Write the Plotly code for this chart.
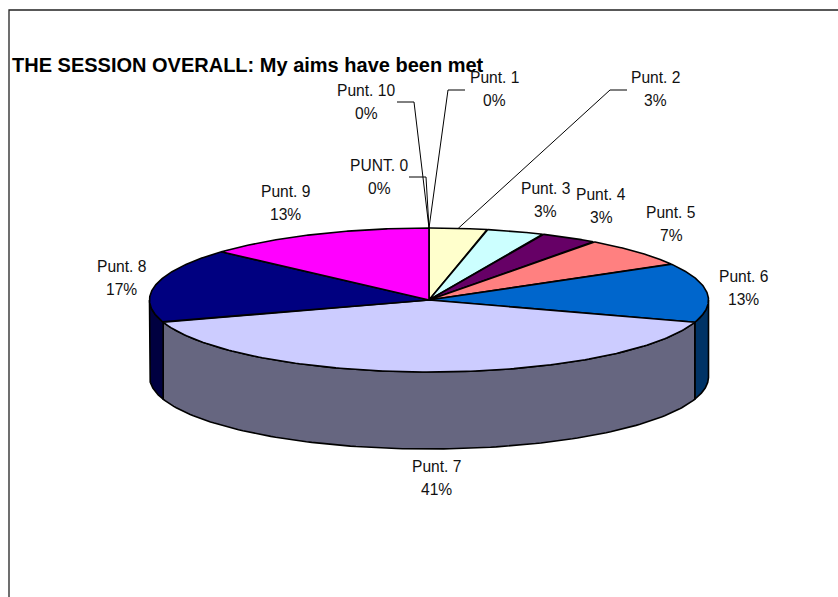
import numpy as np
import plotly.graph_objects as go

# ---- data ----
categories = ["PUNT. 0", "Punt. 1", "Punt. 2", "Punt. 3", "Punt. 4", "Punt. 5",
              "Punt. 6", "Punt. 7", "Punt. 8", "Punt. 9", "Punt. 10"]
counts = [0, 0, 1, 1, 1, 2, 4, 12, 5, 4, 0]
percent_labels = ["0%", "0%", "3%", "3%", "3%", "7%", "13%", "41%", "17%", "13%", "0%"]
title_text = "THE SESSION OVERALL: My aims have been met"

# ---- style / layout ----
W, H = 838, 597
top_colors = ["#FFFFFF", "#FFFFFF", "#FFFFCC", "#CCFFFF", "#660066", "#FF8080",
              "#0066CC", "#CCCCFF", "#000080", "#FF00FF", "#FFFFFF"]
side_colors = ["#808080", "#808080", "#808066", "#668080", "#330033", "#804040",
               "#003366", "#666680", "#000040", "#800080", "#808080"]
CX, CY, RX, RY, DEPTH = 429.0, 300.0, 279.5, 72.0, 77.0
FONT = "Liberation Sans, Arial, sans-serif"
LABEL_SIZE = 15.6
LINE_GAP = 23
label_pos = {  # centre x, y of the first text line
    "PUNT. 0": (379, 165), "Punt. 1": (494, 77), "Punt. 2": (655, 77),
    "Punt. 3": (545, 188), "Punt. 4": (601, 194), "Punt. 5": (671, 212),
    "Punt. 6": (743, 276), "Punt. 7": (436, 466), "Punt. 8": (121, 266),
    "Punt. 9": (285, 191), "Punt. 10": (366, 90),
}
leader_elbows = {  # label-side start and elbow of each leader line
    "PUNT. 0": ((409, 177), (426, 177)),
    "Punt. 10": ((397, 102), (414, 102)),
    "Punt. 1": ((465, 90), (448, 90)),
    "Punt. 2": ((627, 90), (610, 90)),
}

fractions = np.array(counts, dtype=float) / sum(counts)
ends = np.cumsum(fractions) * 2 * np.pi
starts = ends - fractions * 2 * np.pi


def rim(a, dy=0.0):
    return CX + RX * np.sin(a), CY - RY * np.cos(a) + dy


fig = go.Figure()


def poly(x, y, fill):
    fig.add_trace(go.Scatter(
        x=x, y=y, mode="lines", fill="toself", fillcolor=fill,
        line=dict(color="black", width=1.6), hoverinfo="skip",
        showlegend=False, cliponaxis=False))


# side walls: only the front half of the rim can be seen
for s, e, c in zip(starts, ends, side_colors):
    a0, a1 = max(s, np.pi / 2), min(e, 3 * np.pi / 2)
    if a1 <= a0:
        continue
    t = np.linspace(a0, a1, 120)
    xt, yt = rim(t)
    xb, yb = rim(t[::-1], DEPTH)
    poly(np.r_[xt, xb, xt[0]], np.r_[yt, yb, yt[0]], c)

# top faces
for s, e, c in zip(starts, ends, top_colors):
    if e <= s:
        continue
    t = np.linspace(s, e, 160)
    xt, yt = rim(t)
    poly(np.r_[CX, xt, CX], np.r_[CY, yt, CY], c)

# leader lines, ending at the middle of the slice they describe
shapes = [dict(type="path", xref="x", yref="y",
               path=f"M9,{H} L9,10 L{W},10",
               line=dict(color="#222222", width=1.3))]
for name, (p0, p1) in leader_elbows.items():
    i = categories.index(name)
    ax, ay = rim((starts[i] + ends[i]) / 2)
    shapes.append(dict(type="path", xref="x", yref="y",
                       path=f"M{p0[0]},{p0[1]} L{p1[0]},{p1[1]} L{ax:.1f},{ay:.1f}",
                       line=dict(color="black", width=1)))

annotations = [dict(x=10, y=65, xref="x", yref="y", text=f"<b>{title_text}</b>",
                    showarrow=False, xanchor="left", yanchor="middle",
                    font=dict(family=FONT, size=20, color="black"))]
for name, pct in zip(categories, percent_labels):
    x, y = label_pos[name]
    for txt, yy in ((name, y), (pct, y + LINE_GAP)):
        annotations.append(dict(x=x, y=yy, xref="x", yref="y", text=txt,
                                showarrow=False, xanchor="center", yanchor="middle",
                                font=dict(family=FONT, size=LABEL_SIZE, color="#111111")))

fig.update_layout(
    width=W, height=H, margin=dict(l=0, r=0, t=0, b=0),
    paper_bgcolor="white", plot_bgcolor="white", showlegend=False,
    xaxis=dict(range=[0, W], visible=False, fixedrange=True),
    yaxis=dict(range=[H, 0], visible=False, fixedrange=True),
    shapes=shapes, annotations=annotations)

fig.write_html("out.html", config={"displayModeBar": False},
               post_script="document.body.style.margin='0';document.body.style.overflow='hidden';")
